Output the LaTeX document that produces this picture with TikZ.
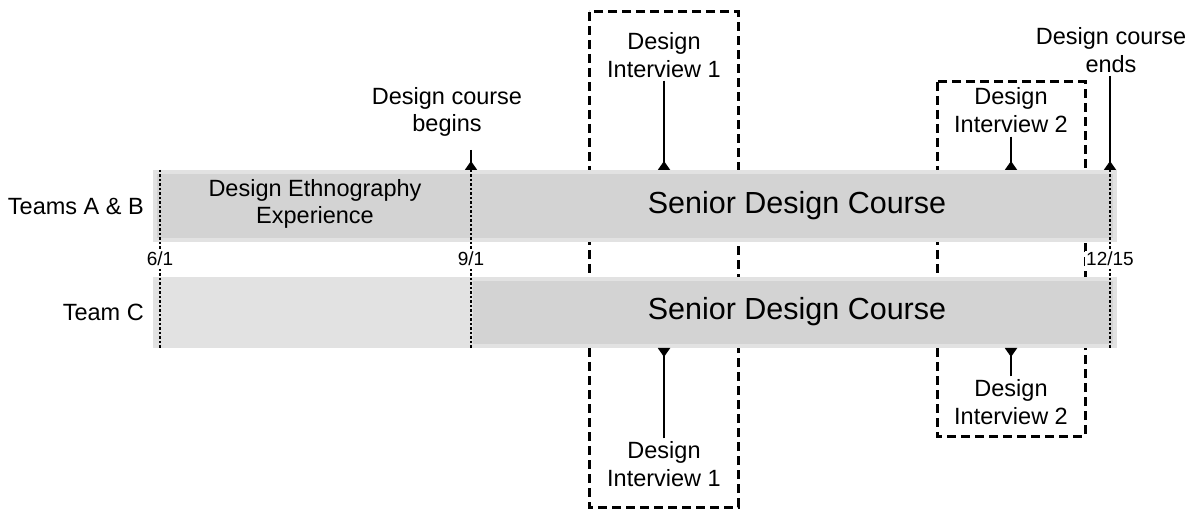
\documentclass[tikz,border=0pt]{standalone}
\usepackage{fontspec}
\setmainfont{Liberation Sans}
\usetikzlibrary{arrows.meta}
\definecolor{barlight}{HTML}{E2E2E2}
\definecolor{bardark}{HTML}{D3D3D3}
\begin{document}
\begin{tikzpicture}[x=1pt,y=-1pt,
  lbl/.style={font=\fontsize{23.5}{27.5}\selectfont, align=center, inner sep=0pt},
  big/.style={font=\fontsize{30.5}{35}\selectfont, inner sep=0pt},
  datelbl/.style={font=\fontsize{19}{22}\selectfont, fill=white, inner sep=1.5pt},
  dbox/.style={draw=black, line width=3pt, dash pattern=on 9pt off 5pt},
  tickline/.style={line width=1.6pt, dash pattern=on 2.5pt off 2pt},
  pin/.style={line width=1.8pt, -{Triangle[reversed, width=12pt, length=9pt]}}
]
\useasboundingbox (0,0) rectangle (1188,510);
% dashed interview windows
\draw[dbox] (589,12) rectangle (738,507);
\draw[dbox] (937,82) rectangle (1085,436);
% bars
\fill[barlight] (153,170) rectangle (1117,242);
\fill[bardark] (157,174) rectangle (1113,238);
\fill[barlight] (153,277) rectangle (1117,348);
\fill[bardark] (473,281) rectangle (1113,344);
\coordinate (top) at (0,170);
\coordinate (bot) at (0,348);
% date ticks
\draw[tickline] (160,170) -- (160,348);
\draw[tickline] (471,170) -- (471,348);
\draw[tickline] (1110,170) -- (1110,348);
\node[datelbl] (d1) at (160,259) {6/1};
\node[datelbl] (d2) at (471,259) {9/1};
\node[datelbl] (d3) at (1110,259) {12/15};
% texts
\node[lbl, anchor=east] (tab) at (144,206) {Teams A \& B};
\node[lbl, anchor=east] (tc) at (144,312) {Team C};
\node[lbl] (eth) at (315,204) {Design Ethnography\\Experience};
\node[big] (sdc1) at (797,206) {Senior Design Course};
\node[big] (sdc2) at (797,312) {Senior Design Course};
\node[lbl] (beg) at (447,112) {Design course\\begins};
\node[lbl] (di1t) at (664,55) {Design\\Interview 1};
\node[lbl] (di2t) at (1011,110) {Design\\Interview 2};
\node[lbl] (fin) at (1111,50) {Design course\\ends};
\node[lbl] (di2b) at (1011,402) {Design\\Interview 2};
\node[lbl] (di1b) at (664,464) {Design\\Interview 1};
% pins
\coordinate (b0) at (471,150);
\draw[pin] (b0) -- (b0 |- top);
\draw[pin] ([yshift=-3pt]di1t.south) -- (di1t.south |- top);
\draw[pin] ([yshift=-4pt]di2t.south) -- (di2t.south |- top);
\coordinate (e0) at (1110,76);
\draw[pin] (e0) -- (e0 |- top);
\draw[pin] ([yshift=3pt]di2b.north) -- (di2b.north |- bot);
\draw[pin] ([yshift=3pt]di1b.north) -- (di1b.north |- bot);
\end{tikzpicture}
\end{document}
